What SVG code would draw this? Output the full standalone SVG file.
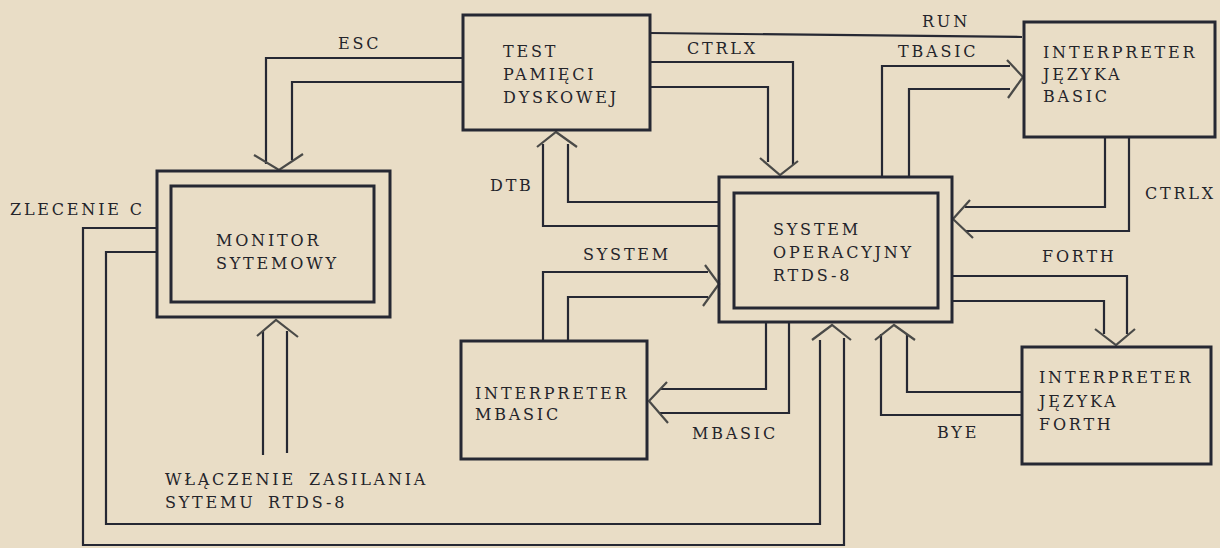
<svg xmlns="http://www.w3.org/2000/svg" width="1220" height="548" viewBox="0 0 1220 548">
<style>
.bg{fill:#e9ddc6}
.box{fill:none;stroke:#262833;stroke-width:3}
.ln{fill:none;stroke:#262833;stroke-width:2.2}
.ah{fill:none;stroke:#4a4a48;stroke-width:2.2}
text{font-family:"DejaVu Serif","Liberation Serif",serif;font-size:16px;fill:#24242a;letter-spacing:2.8px}
</style>
<rect class="bg" x="0" y="0" width="1220" height="548"/>

<g id="connectors">
  <!-- ESC: Test -> Monitor -->
  <path class="ln" d="M463,58 H266 V164"/>
  <path class="ln" d="M463,82 H292 V160"/>
  <path class="ah" d="M254,155 L279,170 L303,154"/>
  <!-- RUN -->
  <path class="ln" d="M650,33 L1022,37"/>
  <!-- CTRLX: Test -> System -->
  <path class="ln" d="M650,62 H793 V165"/>
  <path class="ln" d="M650,87 H768 V162"/>
  <path class="ah" d="M760,158 L780,175 L798,161"/>
  <!-- DTB: System -> Test -->
  <path class="ln" d="M719,226 H543 V144"/>
  <path class="ln" d="M719,202 H568 V144"/>
  <path class="ah" d="M537,147 L556,132 L577,147"/>
  <!-- TBASIC: System -> Basic -->
  <path class="ln" d="M882,177 V66 H1010"/>
  <path class="ln" d="M909,177 V89 H1010"/>
  <path class="ah" d="M1007,60 L1023,77 L1008,98"/>
  <!-- CTRLX: Basic -> System -->
  <path class="ln" d="M1105,137 V207 H965"/>
  <path class="ln" d="M1129,137 V231 H965"/>
  <path class="ah" d="M970,200 L953,219 L973,238"/>
  <!-- FORTH: System -> Forth -->
  <path class="ln" d="M952,276 H1127 V334"/>
  <path class="ln" d="M952,301 H1104 V334"/>
  <path class="ah" d="M1095,329 L1116,345 L1135,329"/>
  <!-- BYE: Forth -> System -->
  <path class="ln" d="M1022,392 H907 V334"/>
  <path class="ln" d="M1022,415 H881 V334"/>
  <path class="ah" d="M875,340 L894,325 L915,340"/>
  <!-- SYSTEM: MBASIC -> System -->
  <path class="ln" d="M543,341 V272 H708"/>
  <path class="ln" d="M568,341 V297 H708"/>
  <path class="ah" d="M705,265 L719,284 L703,306"/>
  <!-- MBASIC: System -> MBASIC -->
  <path class="ln" d="M766,322 V389 H660"/>
  <path class="ln" d="M789,322 V413 H660"/>
  <path class="ah" d="M667,382 L649,401 L668,423"/>
  <!-- Power on -> Monitor -->
  <path class="ln" d="M263,455 V331"/>
  <path class="ln" d="M287,453 V331"/>
  <path class="ah" d="M257,336 L276,320 L298,337"/>
  <!-- ZLECENIE C: Monitor -> System -->
  <path class="ln" d="M157,228 H83 V545 H844 V338"/>
  <path class="ln" d="M157,252 H106 V524 H820 V340"/>
  <path class="ah" d="M812,340 L832,325 L851,340"/>
</g>

<g id="labels">
  <text x="338" y="49">ESC</text>
  <text x="922" y="27">RUN</text>
  <text x="687" y="54">CTRLX</text>
  <text x="898" y="57">TBASIC</text>
  <text x="10" y="215">ZLECENIE C</text>
  <text x="490" y="191">DTB</text>
  <text x="583" y="260">SYSTEM</text>
  <text x="1145" y="199">CTRLX</text>
  <text x="1042" y="262">FORTH</text>
  <text x="692" y="439">MBASIC</text>
  <text x="937" y="438">BYE</text>
  <text x="165" y="485">WŁĄCZENIE</text>
  <text x="309" y="485">ZASILANIA</text>
  <text x="165" y="508">SYTEMU</text>
  <text x="268" y="508">RTDS-8</text>
</g>

<g id="monitor">
  <rect class="box" x="157" y="171" width="233" height="146"/>
  <rect class="box" x="171" y="186" width="203" height="116"/>
  <text x="216" y="246">MONITOR</text>
  <text x="216" y="269">SYTEMOWY</text>
</g>

<g id="test">
  <rect class="box" x="463" y="15" width="187" height="115"/>
  <text x="503" y="57">TEST</text>
  <text x="503" y="80">PAMIĘCI</text>
  <text x="503" y="103">DYSKOWEJ</text>
</g>

<g id="system">
  <rect class="box" x="719" y="177" width="233" height="145"/>
  <rect class="box" x="734" y="193" width="204" height="115"/>
  <text x="773" y="235">SYSTEM</text>
  <text x="773" y="258">OPERACYJNY</text>
  <text x="773" y="281">RTDS-8</text>
</g>

<g id="basic">
  <rect class="box" x="1024" y="22" width="191" height="115"/>
  <text x="1043" y="58">INTERPRETER</text>
  <text x="1043" y="80">JĘZYKA</text>
  <text x="1043" y="102">BASIC</text>
</g>

<g id="mbasic">
  <rect class="box" x="461" y="341" width="186" height="118"/>
  <text x="475" y="399">INTERPRETER</text>
  <text x="475" y="420">MBASIC</text>
</g>

<g id="forth">
  <rect class="box" x="1022" y="347" width="189" height="117"/>
  <text x="1039" y="383">INTERPRETER</text>
  <text x="1039" y="407">JĘZYKA</text>
  <text x="1039" y="430">FORTH</text>
</g>
</svg>
